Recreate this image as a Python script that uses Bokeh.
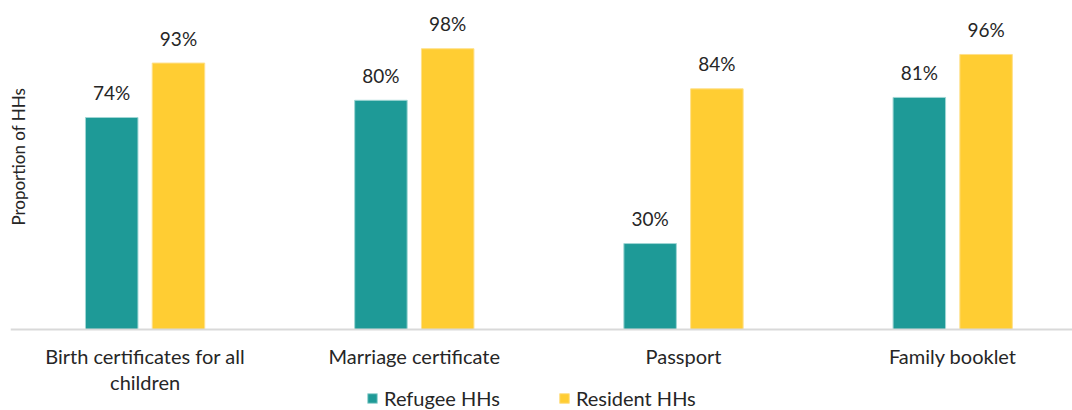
from bokeh.plotting import figure
from bokeh.models import (ColumnDataSource, Range1d, FixedTicker, LabelSet, Legend,
                          LegendItem, Label)
from bokeh.core.properties import value
from bokeh.embed import file_html
from bokeh.resources import INLINE
import math

categories = ["Birth certificates for all\nchildren", "Marriage certificate", "Passport", "Family booklet"]
refugee = [74, 80, 30, 81]
resident = [93, 98, 84, 96]
series_names = ["Refugee HHs", "Resident HHs"]

TEAL = "#1E9A97"
YELLOW = "#FFCD33"
TEXT = "#262626"
FONT = "Lato"

pos = [i + 0.5 for i in range(len(categories))]
off = 0.124
bw = 0.195
PXU = 2.865  # pixels per percentage point

src_ref = ColumnDataSource(dict(x=[p_ - off for p_ in pos], y=refugee,
                                lab=[f"{v}%" for v in refugee]))
src_res = ColumnDataSource(dict(x=[p_ + off for p_ in pos], y=resident,
                                lab=[f"{v}%" for v in resident]))

p = figure(width=1072, height=410, output_backend="svg", toolbar_location=None,
           x_range=Range1d(0, 1062 / 269.2), y_range=Range1d(-81 / PXU, 329 / PXU),
           min_border_left=10, min_border_right=0, min_border_top=0, min_border_bottom=0)
p.outline_line_color = None
p.xgrid.visible = False
p.ygrid.visible = False
p.yaxis.visible = False

r1 = p.vbar(x="x", top="y", width=bw, source=src_ref, fill_color=TEAL,
            line_color="#9fd6d4", line_width=1)
r2 = p.vbar(x="x", top="y", width=bw, source=src_res, fill_color=YELLOW,
            line_color="#ffe08a", line_width=1)

for s in (src_ref, src_res):
    p.add_layout(LabelSet(x="x", y="y", text="lab", source=s, text_align="center",
                          text_baseline="middle", y_offset=25, text_font=value(FONT),
                          text_font_size=value("19px"), text_color=value(TEXT)))

ax = p.xaxis[0]
ax.fixed_location = 0
ax.ticker = FixedTicker(ticks=pos)
ax.major_label_overrides = {p_: c for p_, c in zip(pos, categories)}
ax.major_tick_line_color = None
ax.minor_tick_line_color = None
ax.major_tick_in = 0
ax.major_tick_out = 0
ax.axis_line_color = "#d9d9d9"
ax.axis_line_width = 2
ax.major_label_text_font = FONT
ax.major_label_text_font_size = "20px"
ax.major_label_text_color = TEXT
ax.major_label_text_line_height = 1.1
ax.major_label_standoff = 14

p.add_layout(Label(x=0.03, y=60.3, text="Proportion of HHs", angle=math.pi / 2,
                   text_align="center", text_baseline="middle", text_font=FONT,
                   text_font_size="17px", text_color=TEXT))

legend = Legend(items=[LegendItem(label=series_names[0], renderers=[r1]),
                       LegendItem(label=series_names[1], renderers=[r2])],
                orientation="horizontal", location=(356, 0),
                label_text_font=FONT, label_text_font_size="20px",
                label_text_color=TEXT, glyph_width=12, glyph_height=12,
                spacing=58, label_standoff=6, padding=0, margin=0,
                label_height=20,
                border_line_color=None, background_fill_alpha=0)
p.add_layout(legend, "center")

open("out.html", "w").write(file_html(p, INLINE))
